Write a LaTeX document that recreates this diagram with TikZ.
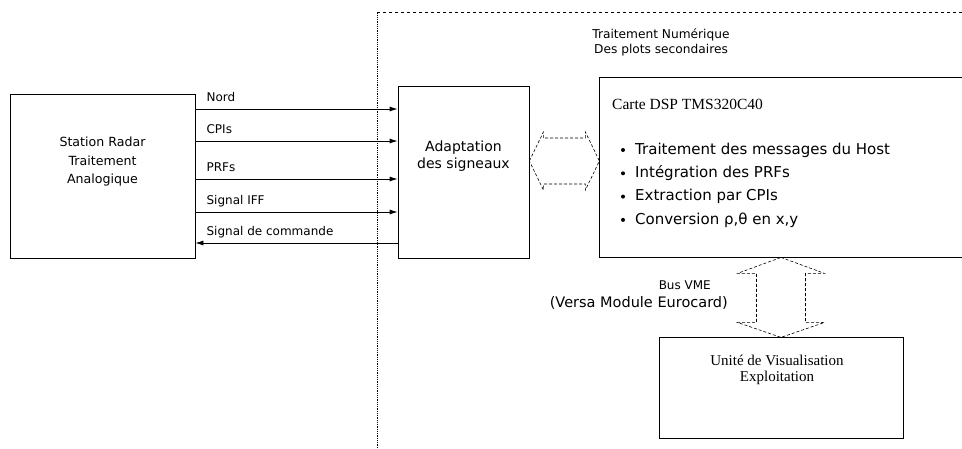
\documentclass[tikz,border=0pt]{standalone}
\usepackage{fontspec}
\setmainfont{Liberation Serif}
\setsansfont{DejaVu Sans}
\usetikzlibrary{arrows.meta}

\tikzset{
  bloc/.style={rectangle,draw,line width=0.8pt,inner sep=0pt},
  sig/.style={line width=0.8pt,-{Latex[length=8pt,width=5pt]}},
  siglab/.style={font=\sffamily\fontsize{12}{14}\selectfont,anchor=base west,inner sep=0pt},
  fleche/.style={draw,line width=0.6pt,densely dashed,line join=miter},
  texte/.style={font=\sffamily\fontsize{12.6}{18.5}\selectfont,align=center},
  puce/.style={font=\sffamily\fontsize{15}{18}\selectfont,anchor=west,inner sep=0pt},
}

\begin{document}
\begin{tikzpicture}[x=1pt,y=-1pt]
\useasboundingbox (0,0) rectangle (962,448);

% zone numerique
\coordinate (coin) at (377,12);
\draw[densely dotted,line width=0.8pt] (377,448) -- (coin);
\draw[dashed,line width=0.7pt] (coin) -- (962,12);
\node (titre) at (661,42.5) [font=\sffamily\fontsize{12.2}{15}\selectfont,align=center] {Traitement Numérique\\Des plots secondaires};

% blocs
\node (station) at (102.5,176) [bloc,minimum width=185pt,minimum height=164pt] {};
\node (stationtxt) at (station.center) [texte,yshift=14pt] {Station Radar\\Traitement\\Analogique};
\node (adapt) at (463.5,172) [bloc,minimum width=131pt,minimum height=172pt] {};
\node (adapttxt) at (adapt.center) [texte,font=\sffamily\fontsize{14}{17}\selectfont,yshift=15.5pt] {Adaptation\\des signeaux};
\node (dsp) at (782,167) [bloc,minimum width=366pt,minimum height=180pt] {};
\node (dsptitre) at (612,104) [anchor=west,inner sep=0pt,font=\fontsize{15.5}{18}\selectfont] {Carte DSP TMS320C40};
\node (unite) at (781,387.5) [bloc,minimum width=244pt,minimum height=101pt] {};
\node (unitetxt) at (unite.center) [align=center,font=\fontsize{15}{16}\selectfont,yshift=17.5pt,xshift=-4pt] {Unité de Visualisation\\Exploitation};

% liste
\foreach \txt [count=\i] in {Traitement des messages du Host,Intégration des PRFs,Extraction par CPIs,{Conversion ρ,θ en x,y}} {
  \fill (623,126.7+23.3*\i) circle (2pt);
  \node (item\i) at (635,126.7+23.3*\i) [puce] {\txt};
}

% signaux
\foreach \y/\nom [count=\i] in {109/Nord,141/CPIs,179/PRFs,212/Signal IFF} {
  \draw[sig] (station.east |- 0,\y) -- (adapt.west |- 0,\y);
  \node (lab\i) at (station.east |- 0,\y) [siglab,xshift=11pt,yshift=8pt] {\nom};
}
\draw[sig] (adapt.west |- 0,243) -- (station.east |- 0,243);
\node (lab5) at (station.east |- 0,243) [siglab,xshift=11pt,yshift=8pt] {Signal de commande};

% liaisons
\draw[fleche] (adapt.east |- 0,161) -- ++(14,-29) -- ++(0,6) -- ++(42,0) -- ++(0,-6)
  -- ++(14,29) -- ++(-14,29) -- ++(0,-6) -- ++(-42,0) -- ++(0,6) -- cycle;
\draw[fleche] (dsp.south -| unite.north) -- ++(43.5,16) -- ++(-19,0) -- ++(0,49) -- ++(19,0)
  -- ++(-43.5,15) -- ++(-43.5,-15) -- ++(19,0) -- ++(0,-49) -- ++(-19,0) -- cycle;
\node (buslab) at (711,285) [anchor=east,inner sep=0pt,font=\sffamily\fontsize{12}{14}\selectfont] {Bus VME};
\node (buslab2) at (728,303) [anchor=east,inner sep=0pt,font=\sffamily\fontsize{14.5}{16}\selectfont] {(Versa Module Eurocard)};
\end{tikzpicture}
\end{document}
